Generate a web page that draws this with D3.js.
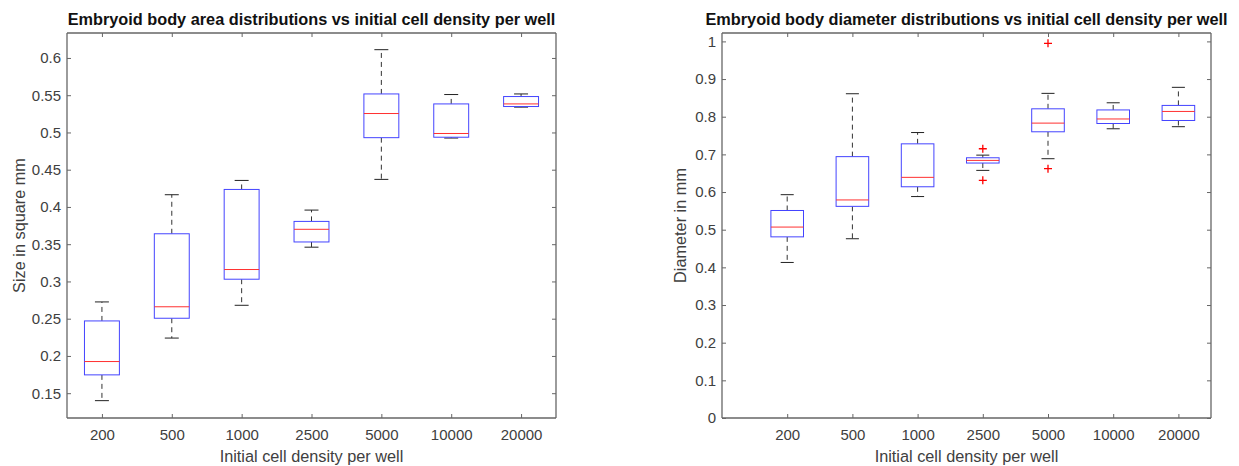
<!DOCTYPE html>
<html><head><meta charset="utf-8">
<script src="https://cdn.jsdelivr.net/npm/d3@7"></script>
<style>
body{margin:0;background:#fff;}
text{font-family:"Liberation Sans",Arial,sans-serif;}
</style></head>
<body><svg id="c" width="1239" height="466"></svg>
<script>
const categories = ["200","500","1000","2500","5000","10000","20000"];

// Area (square mm)
const areaLow  = [0.140, 0.224, 0.268, 0.346, 0.437, 0.4925, 0.534];
const areaQ1   = [0.1746, 0.2506, 0.303, 0.353, 0.493, 0.4936, 0.5348];
const areaMed  = [0.1925, 0.266, 0.316, 0.370, 0.5254, 0.4986, 0.5383];
const areaQ3   = [0.247, 0.364, 0.4235, 0.3806, 0.5517, 0.5383, 0.5482];
const areaHigh = [0.2725, 0.4164, 0.4356, 0.3958, 0.6111, 0.5509, 0.5517];
const areaOut  = [[], [], [], [], [], [], []];
const areaTicks = [0.15, 0.2, 0.25, 0.3, 0.35, 0.4, 0.45, 0.5, 0.55, 0.6];

// Diameter (mm)
const diamLow  = [0.413, 0.476, 0.588, 0.6575, 0.6885, 0.768, 0.7735];
const diamQ1   = [0.481, 0.562, 0.614, 0.677, 0.760, 0.782, 0.790];
const diamMed  = [0.507, 0.579, 0.639, 0.684, 0.783, 0.794, 0.814];
const diamQ3   = [0.551, 0.694, 0.728, 0.691, 0.821, 0.818, 0.830];
const diamHigh = [0.593, 0.861, 0.758, 0.698, 0.862, 0.837, 0.878];
const diamOut  = [[], [], [], [0.715, 0.631], [0.995, 0.662], [], []];
const diamTicks = [0, 0.1, 0.2, 0.3, 0.4, 0.5, 0.6, 0.7, 0.8, 0.9, 1];

const svg = d3.select("#c");
const AXC = "#666666", TXC = "#404040";

function panel(cfg){
  const {x0,x1,y0,y1,xdom,ydom,low,q1,med,q3,high,out,ticks,title,ylabel,ylabX} = cfg;
  const x = d3.scaleLinear().domain(xdom).range([x0,x1]);
  const y = d3.scaleLinear().domain(ydom).range([y1,y0]);
  const g = svg.append("g");
  const fmt = v => String(+v.toFixed(2));
  const idx = categories.map((c,i)=>i+1);

  const ax = g.append("g").attr("transform",`translate(0,${y1})`)
    .call(d3.axisBottom(x).tickValues(idx).tickFormat(i=>categories[i-1]).tickSizeInner(-4).tickSizeOuter(0).tickPadding(11));
  const ay = g.append("g").attr("transform",`translate(${x0},0)`)
    .call(d3.axisLeft(y).tickValues(ticks).tickFormat(fmt).tickSizeInner(-4).tickSizeOuter(0).tickPadding(6));
  const at = g.append("g").attr("transform",`translate(0,${y0})`)
    .call(d3.axisTop(x).tickValues(idx).tickFormat("").tickSizeInner(-4).tickSizeOuter(0));
  const ar = g.append("g").attr("transform",`translate(${x1},0)`)
    .call(d3.axisRight(y).tickValues(ticks).tickFormat("").tickSizeInner(-4).tickSizeOuter(0));
  [ax,ay,at,ar].forEach(a=>{
    a.select(".domain").attr("stroke",AXC).attr("stroke-width",1.3);
    a.selectAll(".tick line").attr("stroke",AXC);
    a.selectAll(".tick text").attr("fill",TXC).style("font-size","15px").style("font-family","'Liberation Sans',Arial,sans-serif");
  });
  ax.select(".domain").attr("d",`M${x0},0H${x1}`);
  at.select(".domain").attr("d",`M${x0},0H${x1}`);
  ay.select(".domain").attr("d",`M0,${y0}V${y1}`);
  ar.select(".domain").attr("d",`M0,${y0}V${y1}`);

  const bw = (x(2)-x(1))*0.5, cw = bw*0.4;
  const data = idx.map((p,i)=>({p,lo:low[i],q1:q1[i],md:med[i],q3:q3[i],hi:high[i],out:out[i]}));
  const b = g.append("g").selectAll("g").data(data).join("g");
  b.append("line").attr("x1",d=>x(d.p)).attr("x2",d=>x(d.p)).attr("y1",d=>y(d.q3)).attr("y2",d=>y(d.hi))
    .attr("stroke","#333").attr("stroke-dasharray","5,4").attr("stroke-width",1);
  b.append("line").attr("x1",d=>x(d.p)).attr("x2",d=>x(d.p)).attr("y1",d=>y(d.q1)).attr("y2",d=>y(d.lo))
    .attr("stroke","#333").attr("stroke-dasharray","5,4").attr("stroke-width",1);
  b.append("line").attr("x1",d=>x(d.p)-cw/2).attr("x2",d=>x(d.p)+cw/2).attr("y1",d=>y(d.hi)).attr("y2",d=>y(d.hi)).attr("stroke","#222");
  b.append("line").attr("x1",d=>x(d.p)-cw/2).attr("x2",d=>x(d.p)+cw/2).attr("y1",d=>y(d.lo)).attr("y2",d=>y(d.lo)).attr("stroke","#222");
  b.append("rect").attr("x",d=>x(d.p)-bw/2).attr("width",bw).attr("y",d=>y(d.q3)).attr("height",d=>y(d.q1)-y(d.q3))
    .attr("fill","#fff").attr("stroke","#4444ff").attr("stroke-width",1);
  b.append("line").attr("x1",d=>x(d.p)-bw/2).attr("x2",d=>x(d.p)+bw/2).attr("y1",d=>y(d.md)).attr("y2",d=>y(d.md))
    .attr("stroke","#ff3030").attr("stroke-width",1);
  b.selectAll("path.o").data(d=>d.out.map(v=>({p:d.p,v}))).join("path").attr("class","o")
    .attr("transform",d=>`translate(${x(d.p)},${y(d.v)})`)
    .attr("d","M-4,0H4M0,-4V4").attr("stroke","#ff0000").attr("stroke-width",1.3);

  g.append("text").attr("x",(x0+x1)/2).attr("y",y0-8).attr("text-anchor","middle")
    .style("font-size","16.3px").style("font-weight","bold").attr("fill","#111").text(title);
  g.append("text").attr("x",(x0+x1)/2).attr("y",y1+44).attr("text-anchor","middle")
    .style("font-size","16.3px").attr("fill",TXC).text("Initial cell density per well");
  g.append("text").attr("transform",`translate(${ylabX},${(y0+y1)/2}) rotate(-90)`).attr("text-anchor","middle")
    .style("font-size","16.3px").attr("fill",TXC).text(ylabel);
}

panel({x0:67,x1:556,y0:33,y1:418,xdom:[0.5,7.5],ydom:[0.1167,0.6335],
  low:areaLow,q1:areaQ1,med:areaMed,q3:areaQ3,high:areaHigh,out:areaOut,ticks:areaTicks,
  title:"Embryoid body area distributions vs initial cell density per well",ylabel:"Size in square mm",ylabX:25});
panel({x0:722,x1:1211,y0:33,y1:418,xdom:[0,7.5],ydom:[0,1.0223],
  low:diamLow,q1:diamQ1,med:diamMed,q3:diamQ3,high:diamHigh,out:diamOut,ticks:diamTicks,
  title:"Embryoid body diameter distributions vs initial cell density per well",ylabel:"Diameter in mm",ylabX:686});
</script></body></html>
